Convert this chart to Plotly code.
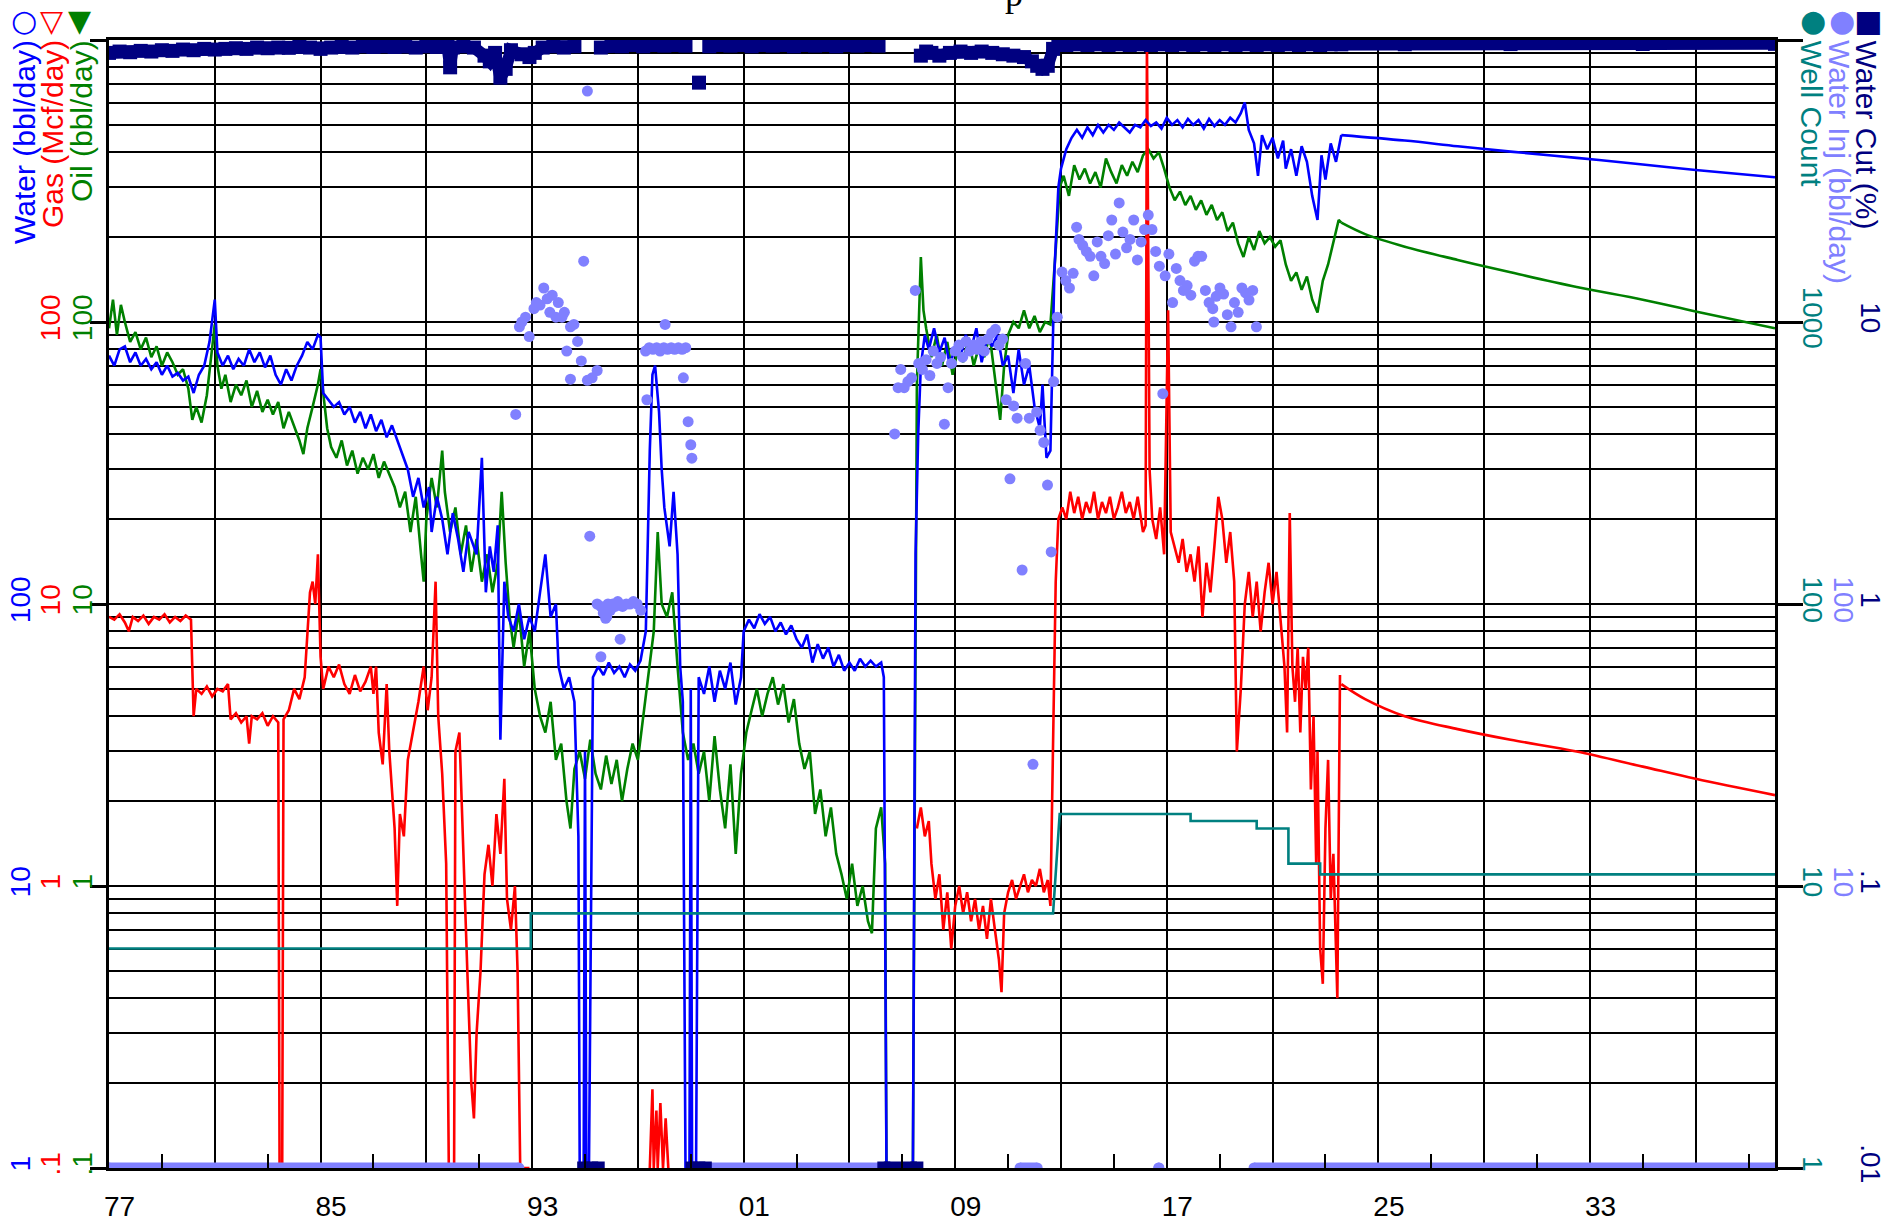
import plotly.graph_objects as go

# ---------------- data ----------------
oil_years = [1977.0,1977.15,1977.3,1977.45,1977.6,1977.8,1978.0,1978.2,1978.4,1978.6,1978.8,1979.0,1979.2,1979.4,1979.6,1979.8,
             1980.0,1980.15,1980.3,1980.5,1980.7,1980.9,1981.0,1981.1,1981.25,1981.4,1981.6,1981.8,1982.0,1982.2,1982.4,1982.6,
             1982.8,1983.0,1983.2,1983.4,1983.6,1983.8,1984.0,1984.2,1984.35,1984.5,1984.7,1984.9,1985.0,1985.1,1985.25,1985.4,
             1985.6,1985.8,1986.0,1986.2,1986.4,1986.6,1986.8,1987.0,1987.2,1987.4,1987.6,1987.8,1988.0,1988.2,1988.4,1988.6,
             1988.8,1988.9,1989.0,1989.2,1989.4,1989.6,1989.7,1989.9,1990.1,1990.3,1990.5,1990.7,1990.9,1991.1,1991.3,1991.5,
             1991.7,1991.85,1992.0,1992.15,1992.3,1992.5,1992.7,1992.9,1993.1,1993.3,1993.5,1993.7,1993.9,1994.1,1994.3,1994.45,
             1994.6,1994.8,1995.0,1995.2,1995.4,1995.6,1995.8,1996.0,1996.2,1996.4,1996.6,1996.8,1997.0,1997.2,1997.4,1997.6,
             1997.75,1997.9,1998.1,1998.3,1998.5,1998.7,1998.9,1999.1,1999.3,1999.5,1999.7,1999.9,2000.1,2000.3,2000.5,2000.7,
             2000.9,2001.1,2001.3,2001.5,2001.7,2001.9,2002.1,2002.3,2002.5,2002.7,2002.9,2003.1,2003.3,2003.5,2003.7,2003.9,
             2004.1,2004.3,2004.5,2004.7,2004.9,2005.1,2005.3,2005.5,2005.7,2005.85,2006.0,2006.2,2006.35,2006.4,2007.4,2007.55,
             2007.7,2007.8,2007.9,2008.1,2008.3,2008.5,2008.7,2008.9,2009.1,2009.3,2009.5,2009.7,2009.9,2010.1,2010.3,2010.5,
             2010.7,2010.85,2011.0,2011.2,2011.4,2011.6,2011.8,2012.0,2012.2,2012.4,2012.6,2012.8,2012.95,2013.1,2013.3,2013.5,
             2013.7,2013.9,2014.1,2014.3,2014.5,2014.7,2014.9,2015.1,2015.3,2015.5,2015.7,2015.9,2016.1,2016.3,2016.5,2016.7,
             2016.9,2017.1,2017.3,2017.5,2017.7,2017.9,2018.1,2018.3,2018.5,2018.7,2018.9,2019.1,2019.3,2019.5,2019.7,2019.9,
             2020.1,2020.3,2020.5,2020.7,2020.9,2021.1,2021.3,2021.5,2021.7,2021.9,2022.1,2022.3,2022.5,2022.7,2022.9,2023.1,
             2023.3,2023.5,2023.6]
oil_bbl = [95,120,90,115,100,85,92,80,88,75,82,70,78,72,65,68,
           58,45,50,44,55,80,98,70,58,65,52,60,55,62,50,57,
           48,53,47,52,42,48,43,38,34,42,50,60,68,55,42,36,
           33,38,31,35,29,33,30,34,28,32,29,26,22,25,18,24,
           15,12,20,28,22,35,25,18,22,15,19,13,17,12,15,11,
           14,25,14,9,7,9.5,6,8,5,4,3.5,4.5,2.8,3.2,2.0,1.6,
           2.6,3.0,2.4,3.3,2.5,2.2,2.9,2.3,2.8,2.0,2.6,3.2,2.8,4.0,5.5,8,
           18,10,9,11,6,3.5,2.8,3.2,2.5,3.0,2.0,3.4,2.2,1.6,2.7,1.3,
           2.5,3.5,4.2,5.0,4.0,4.8,5.5,4.4,5.2,3.8,4.6,3.2,2.6,3.0,1.8,2.2,
           1.5,1.9,1.3,1.1,0.9,1.2,0.85,1.0,0.75,0.68,1.6,1.9,1.2,0.1,0.1,60,
           170,110,95,75,90,70,85,65,80,72,88,70,82,75,90,65,
           45,70,90,100,95,110,95,105,92,100,98,180,300,330,280,360,
           320,350,310,340,300,380,340,310,360,330,370,340,390,410,380,400,
           350,300,270,290,260,280,250,270,240,260,230,245,210,225,190,170,
           200,180,210,190,200,185,195,160,140,150,130,145,120,108,140,160,
           190,230,225]
oil_fc_years = [2023.6, 2024.5, 2026, 2028, 2030, 2032.5, 2035, 2037, 2040]
oil_fc_bbl = [225, 205, 185, 166, 150, 133, 120, 109, 95]

water_years = [1977.0,1977.2,1977.4,1977.6,1977.8,1978.0,1978.2,1978.4,1978.6,1978.8,1979.0,1979.2,1979.4,1979.6,1979.8,
               1980.0,1980.2,1980.4,1980.6,1980.8,1981.0,1981.1,1981.3,1981.5,1981.7,1981.9,1982.1,1982.3,1982.5,1982.7,
               1982.9,1983.1,1983.3,1983.5,1983.7,1983.9,1984.1,1984.3,1984.5,1984.7,1984.9,1985.0,1985.1,1985.3,1985.5,
               1985.7,1985.9,1986.1,1986.3,1986.5,1986.7,1986.9,1987.1,1987.3,1987.5,1987.7,1987.9,1988.1,1988.3,1988.5,
               1988.7,1988.9,1989.1,1989.2,1989.4,1989.6,1989.8,1990.0,1990.2,1990.4,1990.6,1990.9,1991.1,1991.25,1991.4,
               1991.55,1991.7,1991.8,1991.95,1992.1,1992.3,1992.5,1992.7,1992.9,1993.1,1993.3,1993.5,1993.7,1993.9,1994.0,
               1994.2,1994.4,1994.6,1994.75,1994.8,1994.95,1995.0,1995.05,1995.15,1995.3,1995.5,1995.7,1995.9,1996.1,1996.3,
               1996.5,1996.7,1996.9,1997.1,1997.3,1997.45,1997.55,1997.65,1997.8,1997.9,1998.0,1998.2,1998.35,1998.5,1998.6,
               1998.7,1998.8,1998.95,1999.0,1999.05,1999.2,1999.3,1999.5,1999.7,1999.9,2000.1,2000.3,2000.5,2000.7,2000.9,
               2001.0,2001.2,2001.4,2001.6,2001.8,2002.0,2002.2,2002.4,2002.6,2002.8,2003.0,2003.2,2003.4,2003.6,2003.8,
               2004.0,2004.2,2004.4,2004.6,2004.8,2005.0,2005.2,2005.4,2005.6,2005.8,2006.0,2006.2,2006.3,2006.4,2007.4,
               2007.5,2007.6,2007.7,2007.85,2008.0,2008.2,2008.4,2008.6,2008.8,2009.0,2009.2,2009.4,2009.6,2009.8,2010.0,
               2010.2,2010.4,2010.6,2010.8,2011.0,2011.2,2011.4,2011.6,2011.8,2012.0,2012.2,2012.3,2012.45,2012.6,2012.75,
               2012.9,2013.0,2013.2,2013.4,2013.6,2013.8,2014.0,2014.2,2014.4,2014.6,2014.8,2015.0,2015.2,2015.4,2015.6,
               2015.8,2016.0,2016.2,2016.4,2016.6,2016.8,2017.0,2017.2,2017.4,2017.6,2017.8,2018.0,2018.2,2018.4,2018.6,
               2018.8,2019.0,2019.2,2019.4,2019.6,2019.8,2019.95,2020.1,2020.3,2020.45,2020.6,2020.8,2021.0,2021.2,2021.4,
               2021.5,2021.7,2021.9,2022.1,2022.3,2022.5,2022.7,2022.85,2023.0,2023.2,2023.4,2023.6]
water_bbl = [760,700,800,820,720,780,700,740,680,720,650,700,640,660,620,
             640,560,650,700,850,1200,780,700,760,680,740,700,800,720,780,
             690,760,650,600,680,620,700,760,850,800,900,880,560,530,500,
             520,470,500,440,480,420,470,410,450,390,430,380,340,300,240,
             280,220,260,180,240,200,150,210,170,130,180,150,330,110,160,
             130,190,33,120,90,80,100,75,90,80,110,150,90,100,60,
             50,55,45,15,1,1,30,1,1,55,60,56,62,57,60,
             55,61,58,63,80,350,650,700,480,300,220,160,250,150,60,
             45,1,1,50,1,1,55,48,60,45,58,50,62,44,55,
             80,88,82,92,85,90,80,86,78,84,75,70,78,62,72,
             64,70,60,66,58,62,58,64,60,63,60,62,55,1,1,
             150,400,700,900,800,950,780,880,700,820,750,900,800,950,720,
             880,820,900,700,760,560,800,600,700,500,420,600,330,350,1500,
             3000,3500,4100,4500,4800,4500,4900,4600,5000,4700,5000,4800,5100,4900,4700,
             5000,4900,5200,4950,5100,4850,5300,5000,5200,4900,5250,5000,5200,4850,5250,
             4950,5200,5000,5300,5100,5500,6000,4800,4300,3300,4600,4100,4500,3800,4400,
             3500,4100,3300,4200,3700,2800,2300,3900,3200,4300,3700,4600]
water_fc_years = [2023.6, 2026, 2028, 2030, 2032.5, 2035, 2037, 2040]
water_fc_bbl = [4600, 4400, 4200, 4020, 3820, 3620, 3460, 3260]

gas_years = [1977.0,1977.2,1977.4,1977.6,1977.75,1977.9,1978.1,1978.3,1978.5,1978.7,1978.9,1979.1,1979.3,1979.5,1979.7,1979.9,
             1980.1,1980.2,1980.3,1980.5,1980.7,1980.9,1981.1,1981.3,1981.5,1981.6,1981.8,1982.0,1982.2,1982.3,1982.4,1982.6,
             1982.8,1983.0,1983.2,1983.4,1983.45,1983.55,1983.6,1983.8,1984.0,1984.2,1984.4,1984.5,1984.6,1984.7,1984.8,1984.9,
             1985.0,1985.1,1985.3,1985.5,1985.7,1985.9,1986.1,1986.3,1986.5,1986.7,1986.9,1987.0,1987.1,1987.2,1987.35,1987.5,
             1987.6,1987.8,1987.9,1988.0,1988.15,1988.3,1988.5,1988.7,1988.9,1989.05,1989.2,1989.35,1989.45,1989.6,1989.75,1989.85,
             1990.05,1990.1,1990.25,1990.4,1990.55,1990.7,1990.8,1990.9,1991.05,1991.2,1991.35,1991.5,1991.65,1991.8,1991.95,1992.05,
             1992.2,1992.35,1992.45,1992.55,1992.9,None,
             1997.45,1997.55,1997.6,1997.7,1997.75,1997.85,1997.95,1998.05,1998.15,None,
             2007.55,2007.7,2007.85,2008.0,2008.1,2008.25,2008.4,2008.55,2008.7,2008.85,2009.0,2009.15,2009.3,2009.45,2009.6,2009.75,
             2009.9,2010.05,2010.2,2010.35,2010.5,2010.65,2010.75,2010.85,2011.0,2011.15,2011.3,2011.45,2011.6,2011.75,2011.9,2012.05,
             2012.2,2012.35,2012.5,2012.6,2012.7,2012.8,2012.9,2013.05,2013.2,2013.35,2013.5,2013.65,2013.8,2013.95,2014.1,2014.25,
             2014.4,2014.55,2014.7,2014.85,2015.0,2015.15,2015.3,2015.45,2015.6,2015.75,2015.9,2016.0,2016.1,2016.2,2016.25,2016.35,
             2016.45,2016.6,2016.75,2016.9,2017.05,2017.15,2017.3,2017.45,2017.6,2017.75,2017.9,2018.05,2018.2,2018.35,2018.5,2018.65,
             2018.8,2018.95,2019.1,2019.25,2019.4,2019.55,2019.65,2019.8,2019.95,2020.1,2020.25,2020.4,2020.55,2020.7,2020.85,2021.0,
             2021.15,2021.3,2021.45,2021.55,2021.65,2021.75,2021.85,2021.95,2022.05,2022.15,2022.25,2022.35,2022.45,2022.55,2022.65,2022.7,
             2022.8,2022.9,2023.0,2023.1,2023.2,2023.3,2023.45,2023.55]
gas_mcf = [9.0,8.8,9.2,8.6,8.0,9.0,8.7,9.1,8.5,9.0,8.8,9.2,8.6,9.0,8.7,9.1,
           8.8,4.0,5.0,4.8,5.1,4.7,5.0,4.9,5.2,3.9,4.1,3.8,4.0,3.2,4.0,3.9,
           4.1,3.7,4.0,3.8,0.1,0.1,3.9,4.2,5.0,4.6,5.5,8.0,11,12,10,15,
           6.5,5.0,6.0,5.5,6.1,5.2,4.8,5.6,4.9,5.3,6.0,4.8,6.0,3.5,2.7,5.2,
           3.0,1.6,0.85,1.8,1.5,2.8,3.5,4.5,6.0,4.2,5.5,12,4.0,2.5,1.2,0.1,
           0.1,3.0,3.5,1.2,0.5,0.2,0.15,0.3,0.5,1.1,1.4,1.0,1.8,1.3,2.4,0.9,
           0.7,1.0,0.5,0.1,0.1,None,
           0.1,0.19,0.1,0.16,0.1,0.17,0.1,0.15,0.1,None,
           1.6,1.9,1.5,1.7,1.2,0.9,1.1,0.7,0.95,0.6,0.85,1.0,0.8,0.95,0.75,0.9,
           0.7,0.85,0.65,0.9,0.7,0.55,0.42,0.8,0.95,1.05,0.9,1.0,1.1,0.95,1.05,1.0,
           1.15,0.95,1.05,0.85,3.0,12,20,22,20,25,21,24,20,23,21,25,
           20,23,21,24,20,22,25,21,23,20,24,21,18,19,1000,30,
           20,17,22,15,110,18,16,14,17,13,15,12,16,9,14,11,
           16,24,20,14,18,12,3.0,5,10,13,9,12,8,11,14,10,
           13,9,6,3.5,21,6,4.5,7,3.5,6.5,5,7,2.2,4,1.2,3.0,
           0.6,0.45,1.6,2.8,0.9,1.3,0.4,5.6]
gas_fc_years = [2023.6, 2024.5, 2026, 2028, 2030, 2032.5, 2035, 2037, 2040]
gas_fc_mcf = [5.2, 4.6, 4.0, 3.6, 3.3, 3.0, 2.65, 2.4, 2.1]

well_years = [1977, 1992.95, 1992.95, 2012.7, 2012.95, 2017.9, 2017.9, 2020.4, 2020.4, 2021.6, 2021.6, 2022.8, 2022.8, 2040]
well_count = [6, 6, 8, 8, 18, 18, 17, 17, 16, 16, 12, 12, 11, 11]

inj_years = [1992.38,1992.52,1992.61,1992.75,1992.89,1993.07,1993.16,1993.30,1993.44,1993.57,1993.67,1993.76,1993.90,1993.99,
             1994.13,1994.22,1994.31,1994.45,1994.58,1994.72,1994.86,1994.95,1995.09,1995.18,1995.09,1995.27,1995.46,1994.45,
             1995.46,1995.60,1995.69,1995.78,1995.87,1995.96,1996.05,1996.14,1996.24,1996.33,1996.42,1996.56,1996.70,1996.83,
             1996.97,1997.11,1995.60,1995.82,
             1997.29,1997.43,1997.57,1997.71,1997.84,1997.98,1998.12,1998.26,1998.39,1998.53,1998.67,1998.81,1998.72,1998.90,
             1999.00,1999.04,1997.34,1998.03,
             2006.71,2006.84,2006.94,2007.07,2007.21,2007.35,2007.49,2007.62,2007.76,2007.90,2008.04,2008.17,2008.31,2008.45,
             2008.59,2008.73,2008.86,2009.00,2009.14,2009.28,2009.41,2009.55,2009.69,2009.83,2009.97,2010.10,2010.24,2010.38,
             2010.52,2010.66,2010.79,2010.93,2011.07,2011.21,2011.34,2011.53,2011.66,2011.80,2011.94,2012.08,2012.21,2012.35,
             2012.49,2012.63,2012.72,2012.86,
             2013.04,2013.18,2013.32,2013.46,2013.59,2013.68,2013.82,2013.96,2014.10,2014.24,2014.37,2014.51,2014.65,2014.79,
             2014.92,2015.06,2015.20,2015.34,2015.48,2015.61,2015.75,2015.89,2016.03,2016.16,2016.30,2016.44,2016.58,2016.72,
             2016.85,2016.94,2017.08,2017.22,2017.36,2017.50,2017.63,2017.77,2017.91,2018.05,2018.18,2018.32,2018.46,2018.60,
             2018.74,2018.87,2019.01,2019.15,2019.29,2019.43,2019.56,2019.70,2019.84,2019.98,2020.11,2020.25,2020.39,2018.78]
inj_bbl = [470,961,1000,1040,888,1115,1172,1148,1320,1208,1082,1245,1040,1172,
           1040,1082,789,961,980,853,728,1643,6590,174,621,634,673,627,
           100,98,93,89,100,95,100,98,102,75,98,100,100,102,
           100,95,65,90,
           789,811,800,811,789,811,800,811,800,811,800,811,634,443,
           367,329,530,980,
           401,585,679,585,615,634,1294,713,679,735,646,789,713,750,
           434,585,713,789,828,750,853,789,828,800,853,789,871,915,
           942,828,871,530,278,504,456,132,713,456,27,480,413,374,
           264,153,615,1040,
           1503,1403,1320,1488,2168,1962,1870,1780,1710,1458,1923,1710,1612,2023,
           2300,1742,2643,2084,1832,1962,2300,1660,1923,2128,2395,2128,1780,1578,
           557,1458,1742,1172,1548,1403,1294,1346,1245,1643,1710,1710,1294,1172,
           1115,1233,1320,1256,1062,961,1172,1082,1320,1268,1196,1294,961,1000]
# periods when water injection was zero (drawn on the floor of the axis)
inj_zero_start = [1977.0, 1999.6, 2011.45, 2016.7, 2020.3]
inj_zero_end = [1992.5, 2006.2, 2012.1, 2016.7, 2040.0]

cut_years = [1977.0,1977.4,1977.8,1978.2,1978.6,1979.0,1979.4,1979.8,1980.2,1980.6,1981.0,1981.4,1981.8,1982.2,1982.6,
             1983.0,1983.4,1983.8,1984.2,1984.6,1985.0,1985.4,1985.8,1986.2,1986.6,1987.0,1987.4,1987.8,1988.2,1988.6,
             1989.0,1989.4,1989.8,1989.9,1990.0,1990.4,1990.8,1991.2,1991.4,1991.6,1991.8,1992.0,1992.2,1992.6,1992.9,
             1993.1,1993.4,1993.8,1994.2,1994.6,None,
             1995.6,1996.0,1996.4,1996.8,1997.2,1997.6,1998.0,1998.4,1998.8,None,
             1999.31,None,
             1999.7,2000.1,2000.5,2000.9,2001.3,2001.7,2002.1,2002.5,2002.9,2003.3,2003.7,2004.1,2004.5,2004.9,2005.3,
             2005.7,2006.1,None,
             2007.7,2007.9,2008.1,2008.4,2008.8,2009.2,2009.6,2010.0,2010.4,2010.8,2011.2,2011.6,2011.9,2012.1,2012.3,
             2012.5,2012.7,2012.9,2013.2,2013.6,2014.0,2014.4,2014.8,2015.2,2015.6,2016.0,2016.4,2016.8,2017.2,2017.6,
             2018.0,2018.4,2018.8,2019.2,2019.6,2020.0,2020.4,2020.8,2021.2,2021.6,2022.0,2022.4,2022.8,2023.2,2023.6,
             2026.0,2030.0,2035.0,2040.0]
cut_pct = [90,91,90.5,91.5,91,92,91.5,92.5,92,93,92.5,93,93.5,93,94,
           93.5,94,93.8,94.5,94,93,94,94.5,94,95,94.5,95,94.5,95,94,
           95,94.5,95,80,94,95,94,88,84,90,73.5,79,92,89,87,
           90,94,95,94,95,None,
           94,95.5,95,96,95,96,95.5,96,95.5,None,
           70.6,None,
           95,96,95.5,96,95,96,95.5,96,95,96,95.5,96,95,96,95.5,
           96,95.5,None,
           88,91,90,88,90,91,90,91,90,89,88,87,84,81,79,
           81,93,96,96,96.5,96,96.5,96,96.5,96,96.5,96,96.5,96,96.5,
           96,96.5,96,96.5,96,96.5,96,96.5,96,96.5,96,96.5,96,96.5,96.5,
           96.6,96.7,96.8,96.9]
# periods when water cut was zero (no water produced)
cut_zero_start = [1994.95, 1999.05, 2006.3]
cut_zero_end = [1995.5, 1999.55, 2007.55]

year_ticks = [1977.4, 1985.4, 1993.4, 2001.4, 2009.4, 2017.4, 2025.4, 2033.4]
year_labels = ['77', '85', '93', '01', '09', '17', '25', '33']

# ---------------- styling ----------------
GREEN, RED, BLUE = '#008000', '#FF0000', '#0000FF'
TEAL, LILAC, NAVY = '#008080', '#8080FF', '#000080'
FONT = 'Liberation Sans, Arial, sans-serif'
W, H = 1904, 1225
L, R, T, B = 109, 129, 40, 57
PW, PH = W - L - R, H - T - B


def px(xp):
    return (xp - L) / PW


def py(yp):
    return (H - B - yp) / PH


def periods(starts, ends, val):
    xs, ys = [], []
    for s, e in zip(starts, ends):
        xs += [s, e, None]
        ys += [val, val, None]
    return xs, ys


fig = go.Figure()
LW = 2.6
fig.add_trace(go.Scatter(x=oil_years, y=oil_bbl, mode='lines', line=dict(color=GREEN, width=LW), yaxis='y'))
fig.add_trace(go.Scatter(x=oil_fc_years, y=oil_fc_bbl, mode='lines', line=dict(color=GREEN, width=LW, shape='spline'), yaxis='y'))
fig.add_trace(go.Scatter(x=gas_years, y=gas_mcf, mode='lines', line=dict(color=RED, width=LW), yaxis='y2', connectgaps=False))
fig.add_trace(go.Scatter(x=gas_fc_years, y=gas_fc_mcf, mode='lines', line=dict(color=RED, width=LW, shape='spline'), yaxis='y2'))
fig.add_trace(go.Scatter(x=water_years, y=water_bbl, mode='lines', line=dict(color=BLUE, width=LW), yaxis='y3'))
fig.add_trace(go.Scatter(x=water_fc_years, y=water_fc_bbl, mode='lines', line=dict(color=BLUE, width=LW, shape='spline'), yaxis='y3'))
fig.add_trace(go.Scatter(x=well_years, y=well_count, mode='lines', line=dict(color=TEAL, width=LW), yaxis='y4'))
zx, zy = periods(inj_zero_start, inj_zero_end, 1)
fig.add_trace(go.Scatter(x=zx, y=zy, mode='lines+markers', line=dict(color=LILAC, width=11),
                         marker=dict(color=LILAC, size=11), yaxis='y5'))
fig.add_trace(go.Scatter(x=inj_years, y=inj_bbl, mode='markers', marker=dict(color=LILAC, size=11), yaxis='y5'))
cx, cy = periods(cut_zero_start, cut_zero_end, 0.01)
fig.add_trace(go.Scatter(x=cx, y=cy, mode='lines+markers', line=dict(color=NAVY, width=13),
                         marker=dict(color=NAVY, size=13, symbol='square'), yaxis='y6'))
fig.add_trace(go.Scatter(x=cut_years, y=cut_pct, mode='lines+markers', line=dict(color=NAVY, width=12),
                         marker=dict(color=NAVY, size=14, symbol='square'), yaxis='y6', connectgaps=False))
# carrier for the year labels axis
fig.add_trace(go.Scatter(x=[1977, 2040], y=[1, 1], mode='markers', marker=dict(opacity=0), xaxis='x2', yaxis='y',
                         hoverinfo='skip'))

minor_vals = [k * 10.0 ** e for e in range(-1, 3) for k in range(2, 10)]


def side_axis(side, rng, vals, text, color, angle, standoff, **kw):
    d = dict(type='log', range=rng, overlaying='y', side=side, anchor='x', tickvals=vals, ticktext=text,
             tickangle=angle, tickfont=dict(family=FONT, size=28, color=color), showgrid=False, zeroline=False,
             showline=False, ticks='', ticklabelstandoff=standoff)
    d.update(kw)
    return d


fig.update_layout(
    width=W, height=H, showlegend=False,
    plot_bgcolor='white', paper_bgcolor='white',
    margin=dict(l=L, r=R, t=T, b=B, pad=0, autoexpand=False),
    font=dict(family=FONT, color='black'),
    xaxis=dict(range=[1977, 2040], tickvals=[1981 + 4 * i for i in range(15)], showticklabels=False, ticks='',
               showgrid=True, gridcolor='black', gridwidth=2, showline=True, linecolor='black', linewidth=3,
               mirror=True, zeroline=False,
               minor=dict(tickvals=[1979 + 4 * i for i in range(16)], ticks='inside', ticklen=14, tickwidth=2,
                          tickcolor='black', showgrid=False)),
    xaxis2=dict(range=[1977, 2040], overlaying='x', anchor='y', side='bottom', tickvals=year_ticks,
                ticktext=year_labels, ticks='', showgrid=False, showline=False, zeroline=False,
                tickfont=dict(family=FONT, size=28, color='black'), ticklabelstandoff=19),
    yaxis=dict(type='log', range=[-1, 3], tickvals=[0.1, 1, 10, 100, 1000], ticktext=['.1', '1', '10', '100', ''],
               tickangle=-90, tickfont=dict(family=FONT, size=28, color=GREEN), ticks='outside', ticklen=16,
               tickwidth=3, tickcolor='black', showline=True, linewidth=3, linecolor='black', showgrid=True,
               gridcolor='black', gridwidth=2, zeroline=False, ticklabelstandoff=-13,
               minor=dict(tickvals=minor_vals, showgrid=True, gridcolor='black', gridwidth=2, ticks='')),
    yaxis2=side_axis('left', [-1, 3], [0.1, 1, 10, 100], ['.1', '1', '10', '100'], RED, -90, 42),
    yaxis3=side_axis('left', [0, 4], [1, 10, 100], ['1', '10', '100'], BLUE, -90, 72),
    yaxis4=side_axis('right', [0, 4], [1, 10, 100, 1000, 10000], ['1', '10', '100', '1000', ''], TEAL, 90, -11,
                     ticks='outside', ticklen=25, tickwidth=3, tickcolor='black', showline=True, linewidth=3,
                     linecolor='black'),
    yaxis5=side_axis('right', [0, 4], [10, 100], ['10', '100'], LILAC, 90, 52),
    yaxis6=side_axis('right', [-2, 2], [0.01, 0.1, 1, 10], ['.01', '.1', '1', '10'], NAVY, 90, 79),
)

ann = []
for text, color, xp in [('Water (bbl/day)', BLUE, 24), ('Gas (Mcf/day)', RED, 52), ('Oil (bbl/day)', GREEN, 81)]:
    ann.append(dict(text=text, x=px(xp), y=py(38), xref='paper', yref='paper', xanchor='center', yanchor='top',
                    textangle=-90, showarrow=False, font=dict(family=FONT, size=30, color=color)))
for text, color, xp in [('Well Count', TEAL, 1811), ('Water Inj (bbl/day)', LILAC, 1840), ('Water Cut (%)', NAVY, 1866)]:
    ann.append(dict(text=text, x=px(xp), y=py(38), xref='paper', yref='paper', xanchor='center', yanchor='top',
                    textangle=90, showarrow=False, font=dict(family=FONT, size=30, color=color)))
for sym, color, xp in [('○', BLUE, 24), ('▽', RED, 51), ('▼', GREEN, 79),
                       ('●', TEAL, 1813), ('●', LILAC, 1842), ('■', NAVY, 1868)]:
    ann.append(dict(text=sym, x=px(xp), y=py(20), xref='paper', yref='paper', xanchor='center', yanchor='middle',
                    showarrow=False, font=dict(family='DejaVu Sans', size=30, color=color)))
# title, mostly above the visible page
ann.append(dict(text='p', x=px(1014), y=py(16), xref='paper', yref='paper', xanchor='center', yanchor='bottom',
                showarrow=False, font=dict(family='Liberation Serif, Times New Roman, serif', size=36, color='black')))
fig.update_layout(annotations=ann)

fig.write_html('out.html', config={'displayModeBar': False},
               post_script="document.body.style.margin='0';document.body.style.padding='0';")
